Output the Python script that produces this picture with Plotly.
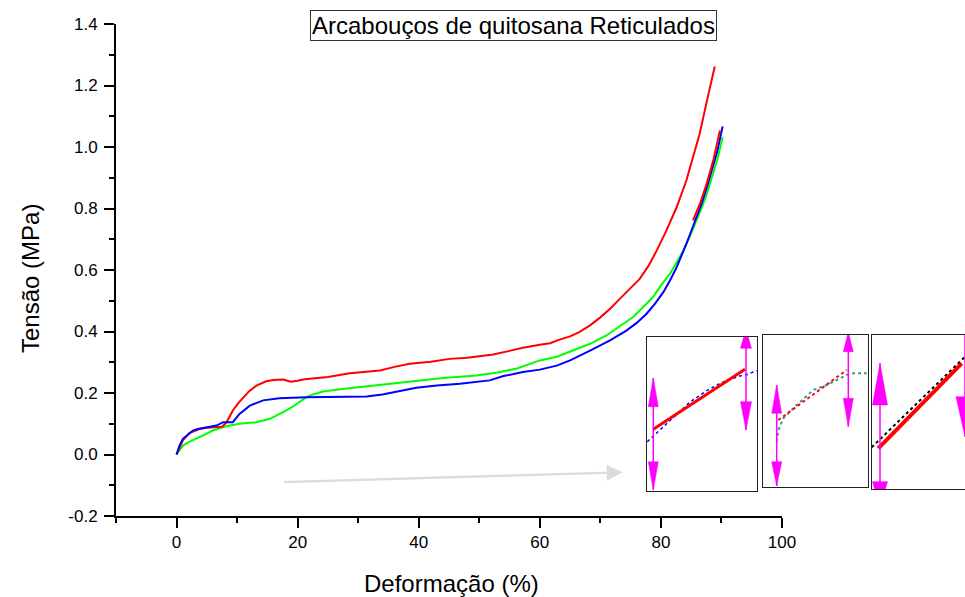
import plotly.graph_objects as go

W, H = 965, 597
FONT = "Liberation Sans, Arial, sans-serif"

# ---------------- main data (Deformação %, Tensão MPa) ----------------
red_x = [0, 0.5, 1.05, 2.1, 3, 3.8, 5, 6.5, 7.5, 8.2, 9.3, 10.2, 11, 12, 13.2, 14.8, 16, 17.6, 18.3, 18.9,
         20, 20.9, 22, 25, 28.6, 31, 33.6, 36, 38.5, 42, 45.1, 48, 52.3, 55, 57.2, 60, 61.7, 63, 65,
         66.5, 68.3, 70, 71.6, 73, 74.3, 76.5, 78, 79.3, 80.9, 82.6, 84.2, 85.3, 86.4, 87.6, 88.9]
red_y = [0, 0.025, 0.046, 0.070, 0.078, 0.083, 0.087, 0.088, 0.090, 0.103, 0.143, 0.167, 0.186, 0.206,
         0.224, 0.238, 0.242, 0.244, 0.240, 0.237, 0.240, 0.244, 0.246, 0.252, 0.264, 0.268, 0.273,
         0.285, 0.295, 0.302, 0.311, 0.315, 0.325, 0.337, 0.347, 0.357, 0.362, 0.372, 0.384, 0.398,
         0.420, 0.446, 0.474, 0.502, 0.528, 0.571, 0.615, 0.663, 0.728, 0.804, 0.891, 0.965, 1.043,
         1.150, 1.262]

red2_x = [85.3, 86.5, 87.55, 88.7, 89.75]
red2_y = [0.761, 0.818, 0.880, 0.960, 1.054]

blue_x = [0, 0.5, 1.05, 2, 2.7, 3.5, 4.9, 6.6, 7.7, 9.3, 10.4, 12.1, 14.3, 17, 21.4, 26, 30.2, 31.4,
          34, 39.6, 43, 46.8, 51.7, 54, 57.2, 60, 62.8, 65, 68.3, 71.6, 74.3, 76, 77.6, 79, 80.4,
          81.5, 82.6, 83.4, 84.2, 85, 85.9, 86.8, 87.6, 88.4, 89.3, 90.2]
blue_y = [0, 0.030, 0.051, 0.068, 0.078, 0.083, 0.089, 0.094, 0.105, 0.105, 0.132, 0.159, 0.176,
          0.183, 0.186, 0.187, 0.190, 0.189, 0.195, 0.217, 0.224, 0.230, 0.241, 0.255, 0.268, 0.276,
          0.289, 0.306, 0.338, 0.371, 0.403, 0.428, 0.457, 0.490, 0.528, 0.566, 0.609, 0.645, 0.685,
          0.726, 0.772, 0.820, 0.869, 0.920, 0.985, 1.067]

green_x = [0, 0.5, 1.05, 2, 3.3, 4.5, 6, 7, 8.2, 10.4, 13.2, 15.4, 16.5, 17.6, 19, 20.2, 21.4, 22.5,
           24.2, 27, 30.2, 35, 39.6, 44, 49.5, 53, 56.1, 60, 62.8, 65.5, 68.3, 71, 73, 75.4, 77,
           78.7, 80, 81.5, 82.6, 83.7, 84.8, 85.9, 86.8, 87.6, 88.6, 89.4, 90.2]
green_y = [0, 0.012, 0.029, 0.040, 0.051, 0.063, 0.078, 0.085, 0.092, 0.100, 0.105, 0.116, 0.126,
           0.138, 0.153, 0.170, 0.186, 0.195, 0.205, 0.212, 0.219, 0.230, 0.241, 0.249, 0.257, 0.267,
           0.279, 0.306, 0.318, 0.338, 0.360, 0.387, 0.415, 0.447, 0.478, 0.512, 0.550, 0.588, 0.625,
           0.663, 0.710, 0.761, 0.805, 0.848, 0.910, 0.965, 1.032]

y_tickvals = [-0.2, 0.0, 0.2, 0.4, 0.6, 0.8, 1.0, 1.2, 1.4]
y_ticktext = ["-0.2", "0.0", "0.2", "0.4", "0.6", "0.8", "1.0", "1.2", "1.4"]
x_tickvals = [0, 20, 40, 60, 80, 100]
x_ticktext = ["0", "20", "40", "60", "80", "100"]

# ---------------- inset pictures (local image coordinates) ----------------
in1_blue_x = [0.3, 13, 26.3, 43, 59.7, 73, 83, 93, 99.7, 109.7]
in1_blue_y = [104.7, 93, 80.3, 65, 53.7, 46.3, 42.3, 39, 37.7, 33.7]
in1_red_x = [6.3, 98]
in1_red_y = [92.3, 32.3]

in2_red_x = [15, 83.4]
in2_red_y = [85, 35]
in2_teal_x = [13.4, 15, 20, 33.4, 50, 63.4, 76.7, 83.4, 90, 103.4]
in2_teal_y = [106.7, 95, 83.3, 70, 55, 50, 43.3, 40, 38.3, 38.3]

in3_black_x = [0, 93.3]
in3_black_y = [112.3, 21.7]
in3_red_x = [6.6, 90]
in3_red_y = [113.3, 28.3]

# magenta markers: (x, y_top, y_bottom, up-head (tip, base), down-head (base, tip), half width)
in1_markers = [(6.3, 41, 153, (41, 69.7), (124.7, 153), 5),
               (99, -10, 93, (-8, 11.3), (64.7, 93), 5.5)]
in2_markers = [(13.4, 50, 151, (50, 78.3), (126.7, 151), 5),
               (85, -10, 91.7, (-3, 16.7), (63.3, 91.7), 5)]
in3_markers = [(8.3, 28.3, 160, (28.3, 70), (146.7, 172), 7.5),
               (93.3, -10, 101.7, None, (61.7, 101.7), 9)]

insets = [
    dict(box=(647, 337, 757, 491), right_border=True),
    dict(box=(763.3, 335, 867.7, 486.7), right_border=True),
    dict(box=(871.7, 335, 965, 489), right_border=False),
]

fig = go.Figure()

main_series = [
    (green_x, green_y, "#00ff00"),
    (red_x, red_y, "#ff0000"),
    (blue_x, blue_y, "#0000ff"),
    (red2_x, red2_y, "#ff0000"),
]
for xs, ys, c in main_series:
    fig.add_trace(go.Scatter(x=xs, y=ys, mode="lines", line=dict(color=c, width=2),
                             xaxis="x", yaxis="y", hoverinfo="skip"))


def add_markers(markers, ax):
    for (mx, ytop, ybot, up, down, hw) in markers:
        xa, ya = "x" + ax, "y" + ax
        fig.add_trace(go.Scatter(x=[mx, mx], y=[ytop, ybot], mode="lines",
                                 line=dict(color="#ff00ff", width=1.5), xaxis=xa, yaxis=ya))
        if up is not None:
            tip, base = up
            fig.add_trace(go.Scatter(x=[mx, mx - hw, mx + hw, mx], y=[tip, base, base, tip],
                                     mode="lines", fill="toself", fillcolor="#ff00ff",
                                     line=dict(color="#ff00ff", width=0.5), xaxis=xa, yaxis=ya))
        if down is not None:
            base, tip = down
            fig.add_trace(go.Scatter(x=[mx - hw, mx + hw, mx, mx - hw], y=[base, base, tip, base],
                                     mode="lines", fill="toself", fillcolor="#ff00ff",
                                     line=dict(color="#ff00ff", width=0.5), xaxis=xa, yaxis=ya))


# inset 1
fig.add_trace(go.Scatter(x=in1_blue_x, y=in1_blue_y, mode="lines", line=dict(color="#0000ff", width=1.5, dash="dot"),
                         xaxis="x2", yaxis="y2"))
fig.add_trace(go.Scatter(x=in1_red_x, y=in1_red_y, mode="lines", line=dict(color="#ff0000", width=3),
                         xaxis="x2", yaxis="y2"))
add_markers(in1_markers, "2")
# inset 2
fig.add_trace(go.Scatter(x=in2_teal_x, y=in2_teal_y, mode="lines", line=dict(color="#2f9a94", width=2, dash="dot"),
                         xaxis="x3", yaxis="y3"))
fig.add_trace(go.Scatter(x=in2_red_x, y=in2_red_y, mode="lines", line=dict(color="#ff0000", width=2, dash="dot"),
                         xaxis="x3", yaxis="y3"))
add_markers(in2_markers, "3")
# inset 3
fig.add_trace(go.Scatter(x=in3_black_x, y=in3_black_y, mode="lines", line=dict(color="#000000", width=2, dash="dot"),
                         xaxis="x4", yaxis="y4"))
fig.add_trace(go.Scatter(x=in3_red_x, y=in3_red_y, mode="lines", line=dict(color="#ff0000", width=4),
                         xaxis="x4", yaxis="y4"))
add_markers(in3_markers, "4")

axis_common = dict(showgrid=False, zeroline=False, showline=True, linecolor="black", linewidth=2,
                   ticks="outside", ticklen=10, tickwidth=2, tickcolor="black", automargin=False,
                   tickfont=dict(family=FONT, size=17, color="black"))

layout = dict(
    template="none",
    width=W, height=H, margin=dict(l=0, r=0, t=0, b=0, pad=0), autosize=False,
    paper_bgcolor="white", plot_bgcolor="white", showlegend=False, hovermode=False,
    font=dict(family=FONT, color="black"),
    xaxis=dict(domain=[116 / W, 782 / W], range=[-10, 100], anchor="y",
               tickmode="array", tickvals=x_tickvals, ticktext=x_ticktext,
               minor=dict(tickmode="linear", tick0=0, dtick=10, ticklen=5, tickwidth=2, tickcolor="black", ticks="outside", showgrid=False),
               **axis_common),
    yaxis=dict(domain=[1 - 516 / H, 1 - 24 / H], range=[-0.2, 1.4], anchor="x",
               tickmode="array", tickvals=y_tickvals, ticktext=y_ticktext, ticklabelstandoff=3,
               minor=dict(tickmode="linear", tick0=0, dtick=0.1, ticklen=5, tickwidth=2, tickcolor="black", ticks="outside", showgrid=False),
               **axis_common),
)

for i, ins in enumerate(insets, start=2):
    x0, y0, x1, y1 = ins["box"]
    layout[f"xaxis{i}"] = dict(domain=[x0 / W, min(x1 / W, 1.0)], range=[0, x1 - x0], anchor=f"y{i}",
                               showgrid=False, zeroline=False, showticklabels=False, ticks="", automargin=False,
                               showline=True, mirror=True, linecolor="#222222", linewidth=1)
    layout[f"yaxis{i}"] = dict(domain=[1 - y1 / H, 1 - y0 / H], range=[y1 - y0, 0], anchor=f"x{i}",
                               showgrid=False, zeroline=False, showticklabels=False, ticks="", automargin=False,
                               showline=True, mirror=ins["right_border"], linecolor="#222222", linewidth=1)

fig.update_layout(**layout)

fig.add_annotation(text="Arcabouços de quitosana Reticulados", xref="paper", yref="paper",
                   x=513 / W, y=1 - 25.5 / H, xanchor="center", yanchor="middle", showarrow=False,
                   font=dict(family=FONT, size=24, color="black"),
                   bordercolor="#333333", borderwidth=1, borderpad=1, bgcolor="white")
fig.add_annotation(text="Deformação (%)", xref="paper", yref="paper", x=451.5 / W, y=1 - 583 / H,
                   xanchor="center", yanchor="middle", showarrow=False,
                   font=dict(family=FONT, size=24, color="black"))
fig.add_annotation(text="Tensão (MPa)", xref="paper", yref="paper", x=30 / W, y=1 - 279 / H,
                   xanchor="center", yanchor="middle", showarrow=False, textangle=-90,
                   font=dict(family=FONT, size=24, color="black"))
fig.add_annotation(text="", x=73.7, y=-0.0576, xref="x", yref="y", ax=17.5, ay=-0.090, axref="x", ayref="y",
                   showarrow=True, arrowhead=2, arrowsize=1.4, arrowwidth=2.3, arrowcolor="#dcdcdc")

post = ("document.documentElement.style.margin='0';document.documentElement.style.overflow='hidden';"
        "document.body.style.margin='0';document.body.style.padding='0';document.body.style.overflow='hidden';"
        "var d=document.getElementById('{plot_id}');d.style.position='absolute';d.style.left='0px';d.style.top='0px';")

fig.write_html("out.html", post_script=post, config={"displayModeBar": False, "staticPlot": True})
